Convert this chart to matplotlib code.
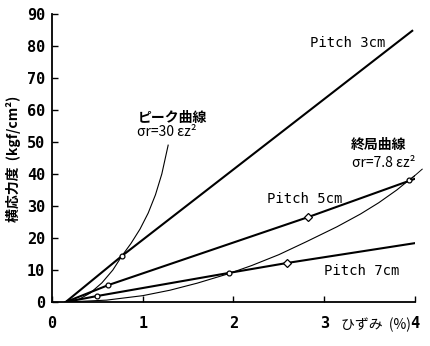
import matplotlib
matplotlib.use("Agg")
import matplotlib.pyplot as plt

plt.rcParams['font.family'] = ['Noto Sans CJK JP', 'DejaVu Sans']

# data
p3_x = [0.15, 0.77, 3.97]
p3_y = [0, 14.4, 84.7]
p5_x = [0.15, 0.62, 2.82, 4.0]
p5_y = [0, 5.3, 26.5, 38.5]
p7_x = [0.15, 0.50, 1.95, 2.59, 4.0]
p7_y = [0, 1.9, 9.1, 12.2, 18.4]

circ_x = [0.77, 0.62, 0.50, 1.95, 3.93]
circ_y = [14.4, 5.3, 1.9, 9.1, 38.0]
diam_x = [2.82, 2.59]
diam_y = [26.5, 12.2]

peak_x = [0.15, 0.30, 0.42, 0.55, 0.67, 0.77, 0.87, 0.97, 1.06, 1.14, 1.21, 1.28]
peak_y = [0, 0.9, 2.8, 6.0, 10.0, 14.4, 18.3, 22.8, 27.8, 33.5, 40.0, 49.0]
final_x = [0.15, 0.60, 1.00, 1.30, 1.60, 1.94, 2.20, 2.50, 2.80, 3.14, 3.40, 3.60, 3.80, 3.93, 4.00]
final_y = [0, 0.6, 2.0, 3.7, 5.9, 8.8, 11.4, 14.8, 18.8, 23.5, 27.5, 31.0, 35.0, 38.0, 39.5]

xticks = [0, 1, 2, 3, 4]
yticks = [0, 10, 20, 30, 40, 50, 60, 70, 80, 90]

fig = plt.figure(figsize=(4.3, 3.46), dpi=100)
ax = fig.add_axes([0.121, 0.127, 0.844, 0.833])

ax.plot(p3_x, p3_y, color='black', lw=1.5)
ax.plot(p5_x, p5_y, color='black', lw=1.5)
ax.plot(p7_x, p7_y, color='black', lw=1.5)
ax.plot(peak_x, peak_y, color='black', lw=0.8)
ax.plot(final_x, final_y, color='black', lw=0.8)
ax.plot(circ_x, circ_y, 'o', ms=3.5, mfc='white', mec='black', mew=0.9)
ax.plot(diam_x, diam_y, 'D', ms=4.5, mfc='white', mec='black', mew=0.9)

# leader for the final curve label
ax.plot([3.95, 4.08], [38.3, 41.5], color='black', lw=0.7, clip_on=False)

ax.set_xlim(0, 4)
ax.set_ylim(0, 90)
ax.set_xticks(xticks)
ax.set_yticks(yticks)
ax.spines['top'].set_visible(False)
ax.spines['right'].set_visible(False)
for s in ['left', 'bottom']:
    ax.spines[s].set_linewidth(1.3)
ax.tick_params(direction='in', length=4, width=1.0, labelsize=11)
ax.tick_params(axis='x', pad=10)
ax.tick_params(axis='y', pad=5)
for lab in ax.get_xticklabels() + ax.get_yticklabels():
    lab.set_family('DejaVu Sans Mono')
    lab.set_weight('bold')

ax.text(2.84, 81, 'Pitch 3cm', fontsize=10, family='DejaVu Sans Mono', va='center')
ax.text(2.37, 32.2, 'Pitch 5cm', fontsize=10, family='DejaVu Sans Mono', va='center')
ax.text(3.0, 9.7, 'Pitch 7cm', fontsize=10, family='DejaVu Sans Mono', va='center')
ax.text(0.94, 57.5, 'ピーク曲線', fontsize=10, va='center', weight='bold')
ax.text(0.94, 53, 'σr=30 εz²', fontsize=10, va='center')
ax.text(3.29, 49, '終局曲線', fontsize=10, va='center', weight='bold')
ax.text(3.31, 43.4, 'σr=7.8 εz²', fontsize=10, va='center', clip_on=False)

fig.text(0.032, 0.54, '横応力度  (kgf/cm²)', rotation=90, fontsize=10,
         ha='center', va='center', weight='bold')
fig.text(0.875, 0.06, 'ひずみ  (%)', fontsize=10, ha='center', va='center')

fig.savefig('out.png', dpi=100)
